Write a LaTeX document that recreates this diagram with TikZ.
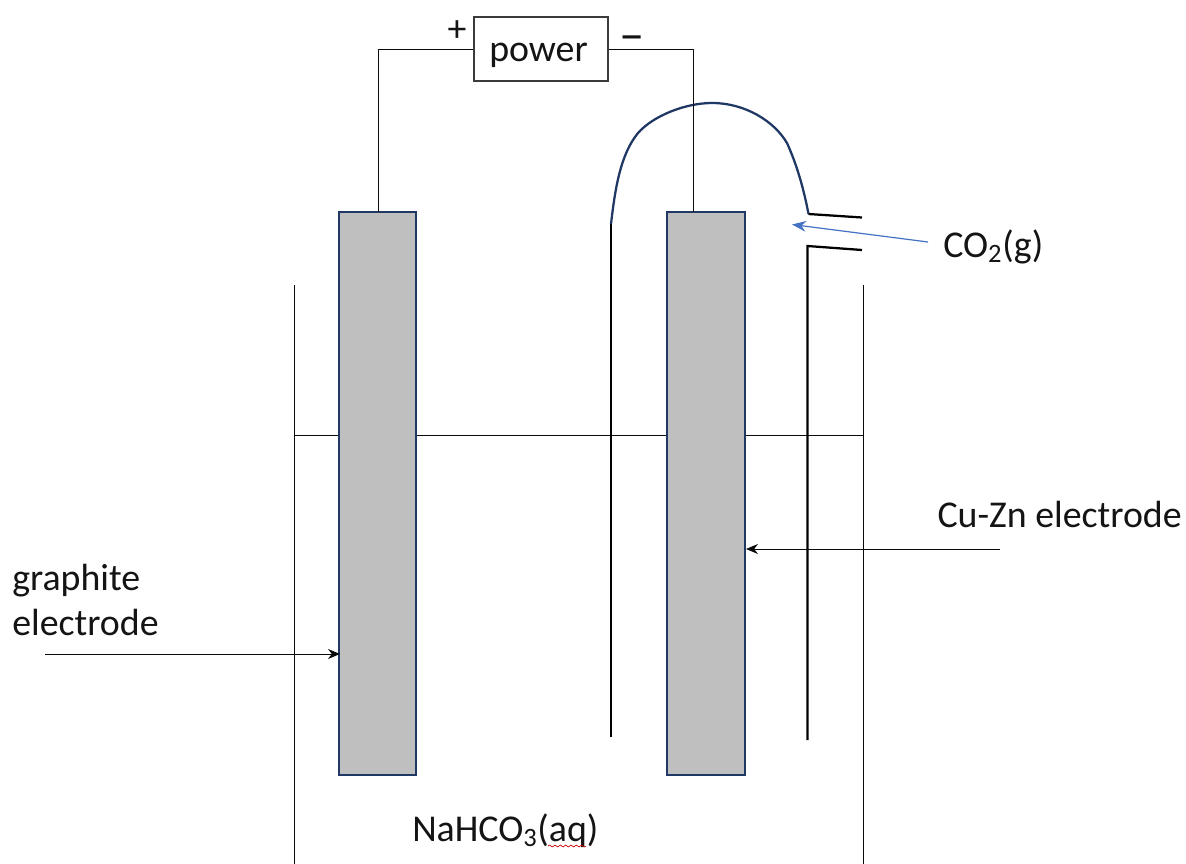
\documentclass[tikz,border=0pt]{standalone}
\usepackage{fontspec}
\setmainfont{Carlito}
\usetikzlibrary{arrows.meta,decorations.pathmorphing}
\definecolor{navy}{RGB}{32,56,100}
\definecolor{elecgray}{RGB}{191,191,191}
\definecolor{bluearrow}{RGB}{68,114,196}
\definecolor{wirecol}{RGB}{10,10,10}
\tikzset{
  px/.style={x=0.75pt,y=-0.75pt},
  wire/.style={draw=wirecol,line width=0.75pt},
  tube/.style={draw=black,line width=1.7pt},
  tubetop/.style={draw=navy,line width=1.7pt},
  electrode/.style={draw=navy,fill=elecgray,line width=1.7pt,minimum width=58pt,minimum height=422pt,inner sep=0pt},
  pointer/.style={wire,-{Stealth[length=9pt,width=7.5pt]}},
  txt/.style={inner sep=0pt,font=\fontsize{28.4pt}{33pt}\selectfont,text=black!92},
}
\begin{document}
\begin{tikzpicture}[px]
\useasboundingbox (0,0) rectangle (1186,864);
\fill[white] (0,0) rectangle (1186,864);
% beaker
\coordinate (wallLt) at (294,285); \coordinate (wallLb) at (294,864);
\coordinate (wallRt) at (863,285); \coordinate (wallRb) at (863,864);
\coordinate (liqL) at (294,435.5); \coordinate (liqR) at (863,435.5);
\draw[wire] (wallLt) -- (wallLb);
\draw[wire] (wallRt) -- (wallRb);
\draw[wire] (liqL) -- (liqR);
% tube
\coordinate (tubeLb) at (611,737);
\coordinate (tubeLt) at (611,224);
\coordinate (tubeRt) at (808.5,214);
\coordinate (spoutUp) at (862,217.5);
\coordinate (spoutLow) at (862,250);
\coordinate (tubeRk) at (807.5,246);
\coordinate (tubeRb) at (807.5,740);
\draw[tube] (tubeLb) -- (tubeLt);
\draw[tubetop] (tubeLt) .. controls (615,190) and (620,155) .. (638,133)
  .. controls (653,116) and (685,103) .. (712,103)
  .. controls (745,103) and (774,121) .. (787,143)
  .. controls (797,165) and (804,190) .. (tubeRt);
\draw[tube] (tubeRt) -- (spoutUp);
\draw[tube,line join=miter] (spoutLow) -- (tubeRk) -- (tubeRb);
% electrodes
\node[electrode] (gr) at (377.5,493.5) {};
\node[electrode] (cz) at (706,493.5) {};
% power
\node[draw=wirecol!80,line width=0.9pt,minimum width=100.5pt,minimum height=48pt,inner sep=0pt] (pw) at (541,49) {};
\node[txt,anchor=base] (pwt) at (538.5,61) {power};
\coordinate (grTop) at (378.5,212);
\coordinate (czTop) at (693,212);
\draw[wire] (pw.west) -| (grTop);
\draw[wire] (pw.east) -| (czTop);
\node[txt,anchor=base] (plus) at (457,41) {+};
\node[txt,anchor=base,font=\fontsize{38pt}{40pt}\selectfont] (minus) at (632,51) {–};
% labels
\node[txt,anchor=base west] (co) at (943,257) {CO\textsubscript{2}(g)};
\coordinate (coTail) at (928,242);
\coordinate (coHead) at (792,224.5);
\draw[draw=bluearrow,line width=0.9pt,-{Stealth[length=10.5pt,width=8pt]}] (coTail) -- (coHead);
\node[txt,anchor=base east] (cu) at (1182,527) {Cu-Zn electrode};
\coordinate (cuTail) at (1000,549);
\coordinate (cuHead) at (746,549);
\draw[pointer] (cuTail) -- (cuHead);
\node[txt,anchor=base west] (g1) at (12,590) {graphite};
\node[txt,anchor=base west] (g2) at (12,635) {electrode};
\coordinate (grTail) at (45,654);
\coordinate (grHead) at (340,654);
\draw[pointer] (grTail) -- (grHead);
\node[txt,anchor=base west] (na) at (412,841) {NaHCO\textsubscript{3}(aq)};
\coordinate (wavyA) at (548,846);
\coordinate (wavyB) at (586,846);
\draw[red!80!black,line width=0.5pt,decorate,decoration={snake,amplitude=0.7pt,segment length=4pt}] (wavyA) -- (wavyB);
\end{tikzpicture}
\end{document}
